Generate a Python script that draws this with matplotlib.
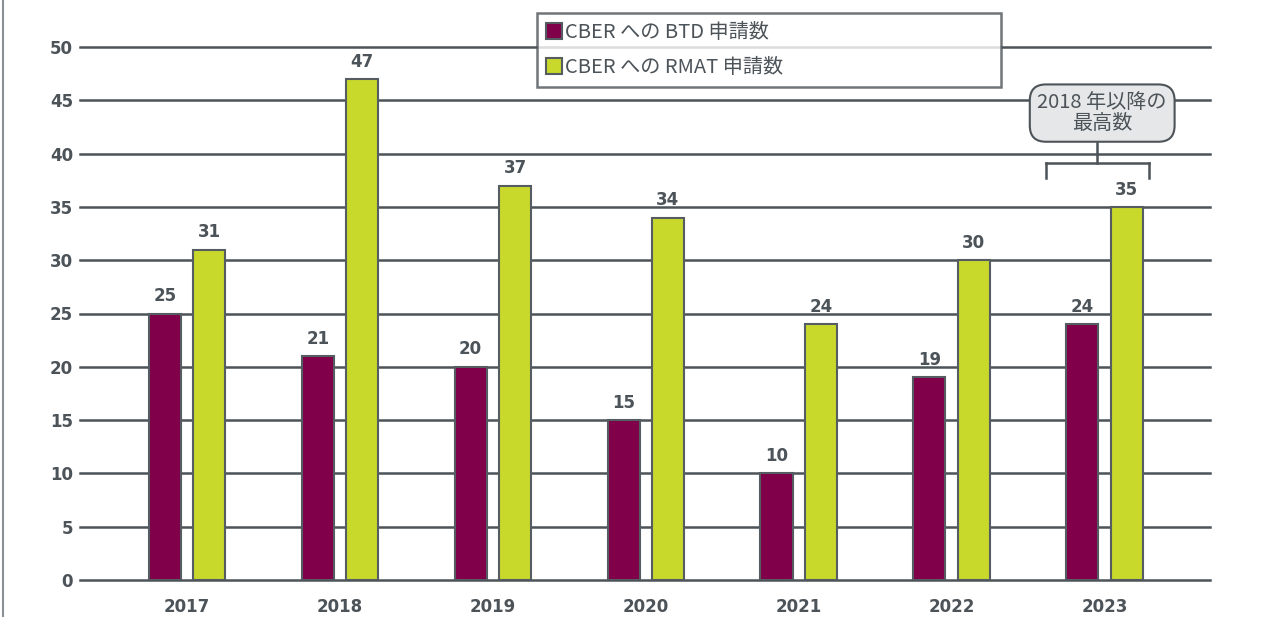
import matplotlib
matplotlib.use("Agg")
import matplotlib.pyplot as plt
import numpy as np
from matplotlib.lines import Line2D
from matplotlib.patches import Patch

plt.rcParams['font.family'] = ['Noto Sans CJK JP', 'DejaVu Sans']

years = ['2017', '2018', '2019', '2020', '2021', '2022', '2023']
btd = [25, 21, 20, 15, 10, 19, 24]
rmat = [31, 47, 37, 34, 24, 30, 35]
yticks = [0, 5, 10, 15, 20, 25, 30, 35, 40, 45, 50]
legend_labels = ['CBER への BTD 申請数', 'CBER への RMAT 申請数']
note_text = '2018 年以降の\n最高数'

PURPLE = '#800049'
GREEN = '#c9d92c'
GRAY = '#4c5359'
EDGE = '#555c62'

W, H = 1261, 617
fig = plt.figure(figsize=(W / 100, H / 100), dpi=100)
ax = fig.add_axes([80 / W, 37 / H, 1130 / W, 533 / H])

x = np.arange(len(years))
bw = 0.21
off = 0.145

for yv in yticks:
    ax.axhline(yv, color=GRAY, lw=1.8, zorder=1, clip_on=False)

b1 = ax.bar(x - off, btd, bw, color=PURPLE, edgecolor=EDGE, lw=1.5, zorder=3)
b2 = ax.bar(x + off, rmat, bw, color=GREEN, edgecolor=EDGE, lw=1.5, zorder=3)

for bars, vals in ((b1, btd), (b2, rmat)):
    for r, v in zip(bars, vals):
        ax.annotate(str(v), (r.get_x() + r.get_width() / 2, v), xytext=(0, 6),
                    textcoords='offset points', ha='center', va='bottom',
                    fontsize=12, fontweight='bold', color=GRAY,
                    family='DejaVu Sans', zorder=4)

ax.set_xlim(-0.70, 6.69)
ax.set_ylim(0, 50)
ax.set_yticks(yticks)
ax.set_yticklabels([str(t) for t in yticks], fontsize=12, fontweight='bold',
                   color=GRAY, family='DejaVu Sans')
ax.set_xticks(x)
ax.set_xticklabels(years, fontsize=12, fontweight='bold', color=GRAY,
                   family='DejaVu Sans')
ax.tick_params(axis='both', length=0)
ax.tick_params(axis='y', pad=5)
ax.tick_params(axis='x', pad=13)
for s in ax.spines.values():
    s.set_visible(False)

handles = [Patch(facecolor=PURPLE, edgecolor=EDGE, lw=1.5),
           Patch(facecolor=GREEN, edgecolor=EDGE, lw=1.5)]
leg = fig.legend(handles, legend_labels, loc='upper left',
                 bbox_to_anchor=(537 / W, 1 - 23 / H, 464 / W, 10 / H),
                 bbox_transform=fig.transFigure, mode='expand',
                 fontsize=14.5, frameon=True, fancybox=False,
                 handlelength=0.8, handleheight=0.8, handletextpad=0.15,
                 labelspacing=0.7, borderpad=0.45, borderaxespad=0)
leg.get_frame().set_edgecolor(GRAY)
leg.get_frame().set_linewidth(1.8)
leg.set_zorder(10)
for t in leg.get_texts():
    t.set_color(GRAY)

# annotation box with bracket
gx = 6
ax.text(gx - 0.015, 43.8, note_text, ha='center', va='center', fontsize=14.5,
        color=GRAY, linespacing=1.0, zorder=5,
        bbox=dict(boxstyle='round,pad=0.38,rounding_size=0.8',
                  facecolor='#e6e7e8', edgecolor=GRAY, lw=1.5))
bl, br, stem = gx - 0.38, gx + 0.29, gx - 0.05
ax.plot([stem, stem], [41.0, 39.1], color=GRAY, lw=1.8, zorder=4, clip_on=False)
ax.plot([bl, br], [39.1, 39.1], color=GRAY, lw=1.8, zorder=4, clip_on=False)
ax.plot([bl, bl], [39.1, 37.7], color=GRAY, lw=1.8, zorder=4, clip_on=False)
ax.plot([br, br], [39.1, 37.7], color=GRAY, lw=1.8, zorder=4, clip_on=False)

fig.add_artist(Line2D([2.5 / W, 2.5 / W], [0, 1], color='#8a9096', lw=1.5,
                      transform=fig.transFigure))

fig.savefig('out.png', dpi=100, facecolor='white')
